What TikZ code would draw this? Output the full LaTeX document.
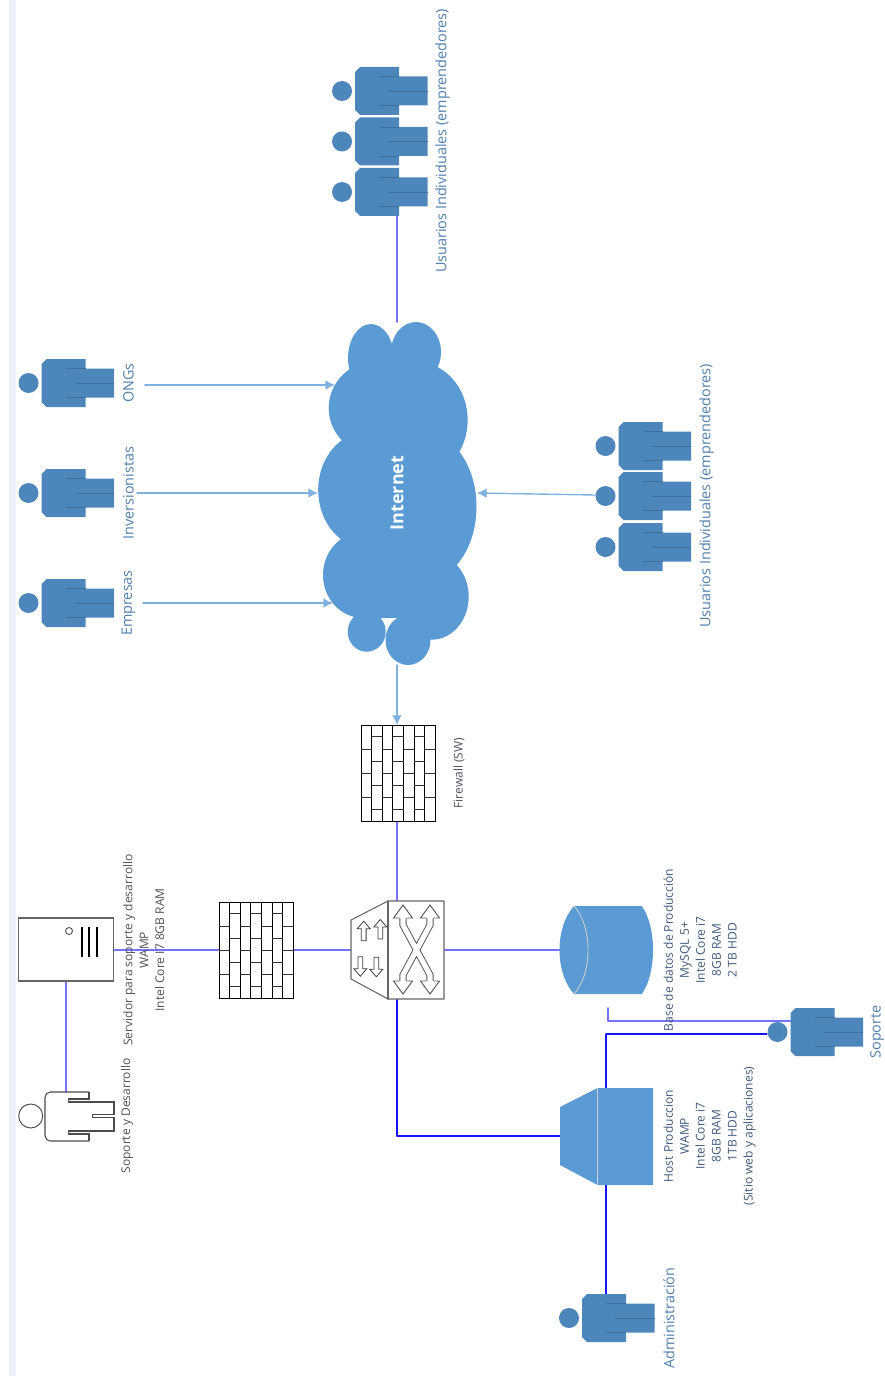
\documentclass[tikz,border=0pt]{standalone}
\usepackage{fontspec}
\setmainfont{Open Sans}
\usepackage{tikz}
\usetikzlibrary{calc, arrows.meta}
\usepackage{tkz-euclide}

\definecolor{cloudblue}{HTML}{5B9BD5}
\definecolor{personblue}{HTML}{4D86BB}
\definecolor{personline}{HTML}{3F6F9C}
\definecolor{wireblue}{HTML}{1414FF}
\definecolor{softwire}{HTML}{7474FF}
\definecolor{feedblue}{HTML}{7FB1E0}
\definecolor{labelblue}{HTML}{4F7FAD}
\definecolor{notedark}{HTML}{3F5A7C}
\definecolor{notegray}{HTML}{52505F}
\definecolor{stripblue}{HTML}{ECF1FA}

\tikzset{
    wire/.style={wireblue, line width=0.65pt},
    softline/.style={softwire, line width=0.95pt},
    feed/.style={feedblue, line width=0.8pt, -{Latex[length=5.5pt, width=5.5pt]}},
    biglabel/.style={rotate=90, labelblue, align=center, font=\fontsize{8.2}{11}\selectfont},
    notelabel/.style={rotate=90, notedark, align=center, font=\fontsize{6.85}{9.07}\selectfont},
    darklabel/.style={notelabel, notegray},
    hardware/.style={draw=black!60, line width=0.6pt},
    person/.pic={
        \fill[personblue] (0,0) circle (10);
        \fill[personblue] (13,-19) -- (18,-24) -- (57,-24) -- (57,-14.5) -- (85.5,-14.5)
            -- (85.5,14.5) -- (57,14.5) -- (57,24) -- (18,24) -- (13,19) -- cycle;
        \draw[personline, line width=0.5pt] (37,14.5) -- (57,14.5) (37,-14.5) -- (57,-14.5) (46,0) -- (85.5,0);
    },
    firewall/.pic={
        \draw[black, line width=0.55pt] (0,0) rectangle (74.5,-96.5);
        \foreach \c in {1,...,6} \draw[black, line width=0.55pt] ({\c*10.64},0) -- ({\c*10.64},-96.5);
        \foreach \c in {0,2,4,6} \foreach \r in {24.3,48.3,72.3}
            \draw[black!80, line width=0.55pt] ({\c*10.64},-\r) -- ++(10.64,0);
        \foreach \c in {1,3,5} \foreach \r in {11.7,36,60,84}
            \draw[black!80, line width=0.55pt] ({\c*10.64},-\r) -- ++(10.64,0);
    },
    smalltip/.pic={
        \draw[black!75, line width=0.45pt] (-2.4,0) -- (-2.4,12) -- (-6.5,12) -- (0,19.5) -- (6.5,12) -- (2.4,12) -- (2.4,0) -- cycle;
    },
    bigtip/.pic={
        \filldraw[fill=white, draw=black!65, line width=0.55pt] (-3.6,0) -- (-9.5,0) -- (0,13) -- (9.5,0) -- (3.6,0);
    },
}

\begin{document}
\begin{tikzpicture}[x=0.2mm, y=0.2mm]
    \useasboundingbox (0,0) rectangle (885,-1376);
    \fill[stripblue] (9,0) rectangle (16,-1376);

    % places of the people and of the boxes
    \tkzDefPoints{342/-91/UA, 342/-141.5/UB, 342/-192/UC, 605.5/-446/RA, 605.5/-496/RB, 605.5/-547/RC}
    \tkzDefPoints{28.5/-383/ONG, 28.5/-493/INV, 28.5/-603/EMP, 777.5/-1032/SOP, 569/-1318/ADM}
    \tkzDefPoints{361/-725/FA, 219/-902/FB}

    % wire ends
    \tkzDefPoints{397/-216/UC_e, 397/-322/CL_t, 145/-385/ONG_e, 335/-385/CL_o, 137/-493/INV_e, 318/-493/CL_i}
    \tkzDefPoints{143/-603/EMP_e, 333/-603/CL_m, 595/-495/RB_e, 477/-493/CL_r, 397/-665/CL_b, 397/-725/FA_t}
    \tkzDefPoints{397/-822/FA_b, 397/-901/SW_t, 444/-950/SW_r, 560/-950/DB_l, 293.5/-950/FB_r, 351/-950/SW_l}
    \tkzDefPoints{397/-999/SW_b, 397/-1136/SW_c, 560.5/-1136/HO_l, 113.5/-950/SV_r, 219/-950/FB_l}
    \tkzDefPoints{66/-981/SV_b, 66/-1092/SD_t, 608/-1008/DB_b, 608/-1021/DB_c, 791/-1021/SOP_l}
    \tkzDefPoints{606/-1088/HO_t, 606/-1034/HO_c, 767/-1034/SOP_h, 606/-1185/HO_b, 606/-1295/ADM_t}

    % host and switch corners
    \tkzDefPoints{560/-1107/HA, 597.5/-1088/HB, 653/-1088/HC, 653/-1185/HD, 597.5/-1185/HE, 560/-1165/HF}
    \tkzDefPoints{351/-920/SA, 388/-901/SB, 444/-901/SC, 444/-999/SD, 388/-999/SE, 351/-979/SF}

    % wires first
    \tkzDrawSegments[softline](UC_e,CL_t FA_b,SW_t SW_r,DB_l FB_r,SW_l SV_r,FB_l SV_b,SD_t DB_b,DB_c DB_c,SOP_l)
    \tkzDrawSegments[wire](SW_b,SW_c SW_c,HO_l HO_t,HO_c HO_c,SOP_h HO_b,ADM_t)
    \tkzDrawSegments[feed](ONG_e,CL_o INV_e,CL_i EMP_e,CL_m RB_e,CL_r CL_b,FA_t)

    % cloud
    \fill[cloudblue] (371,-358) ellipse (23 and 34) (416,-352) ellipse (25 and 30)
        (376.7,-408) ellipse (48 and 47) (416.7,-420) ellipse (51 and 58)
        (366.7,-490) ellipse (48.5 and 58) (423,-506.7) ellipse (53.5 and 75)
        (363,-575) ellipse (40 and 43) (431.7,-596.7) ellipse (37 and 43)
        (366.7,-631.7) ellipse (19 and 20) (408,-640) ellipse (22.5 and 25);
    \fill[cloudblue] (365,-370) rectangle (440,-618);
    \node[white, rotate=90, font=\fontsize{10.2}{11}\selectfont\bfseries] (cloudname) at (397,-493) {Internet};

    % people
    \foreach \p in {UA,UB,UC,RA,RB,RC,ONG,INV,EMP,SOP,ADM} \pic at (\p) {person};

    % person without fill
    \draw[black!70, line width=0.55pt] (30.7,-1116) circle (12);
    \draw[black!70, line width=0.6pt, rounded corners=3pt] (89,-1092) -- (45,-1092) -- (45,-1141) -- (89,-1141);
    \draw[black!70, line width=0.6pt] (89,-1092) -- (89,-1099) -- (68.5,-1099) -- (68.5,-1102) -- (114,-1102) -- (114,-1114.5)
        -- (92.5,-1114.5) -- (92.5,-1117.5) -- (114,-1117.5) -- (114,-1131) -- (68.5,-1131) -- (68.5,-1134) -- (89,-1134) -- (89,-1141);

    % server
    \draw[hardware] (18.5,-918) rectangle (113.5,-981);
    \draw[black!70, line width=0.5pt] (69,-931) circle (3.5);
    \foreach \x in {82,89,97} \draw[black, line width=1.3pt] (\x,-927) -- (\x,-957);

    % firewalls
    \pic at (FA) {firewall};
    \pic at (FB) {firewall};

    % switch
    \tkzDrawPolygon[hardware, fill=white](SA,SB,SC,SD,SE,SF)
    \tkzDrawSegments[hardware](SB,SE)
    \pic at (363.7,-940.7) {smalltip};
    \pic at (380.3,-939) {smalltip};
    \pic[rotate=180] at (360.3,-956.7) {smalltip};
    \pic[rotate=180] at (376.3,-957.3) {smalltip};
    \draw[black!65, double=white, double distance=2.9pt, line width=0.55pt]
        (403,-918) -- (403,-925) -- (430,-975) -- (430,-981)
        (430,-918) -- (430,-925) -- (403,-975) -- (403,-981);
    \pic at (403,-918) {bigtip};
    \pic at (430,-918) {bigtip};
    \pic[rotate=180] at (403,-981) {bigtip};
    \pic[rotate=180] at (430,-981) {bigtip};

    % database
    \fill[cloudblue] (574,-906) -- (641.7,-906) .. controls (649,-916) and (653,-932) .. (653,-950)
        .. controls (653,-968) and (649,-984) .. (641.7,-994) -- (574,-994)
        .. controls (565,-984) and (559.5,-968) .. (559.5,-950) .. controls (559.5,-932) and (565,-916) .. (574,-906) -- cycle;
    \draw[black!20!white, line width=0.5pt] (574,-906) .. controls (583,-916) and (588,-932) .. (588,-950)
        .. controls (588,-968) and (583,-984) .. (574,-994);

    % host
    \tkzDrawPolygon[fill=cloudblue, draw=none](HA,HB,HC,HD,HE,HF)
    \tkzDrawSegments[black!20!white, line width=0.5pt](HB,HE)

    % texts
    \node[biglabel] (labusers) at (442.5,-141) {Usuarios Individuales (emprendedores)};
    \node[biglabel] (labusersb) at (706.5,-496) {Usuarios Individuales (emprendedores)};
    \node[biglabel] (labong) at (128.5,-383) {ONGs};
    \node[biglabel] (labinv) at (128.5,-493) {Inversionistas};
    \node[biglabel] (labemp) at (128.5,-603) {Empresas};
    \node[biglabel] (labsop) at (877,-1032) {Soporte};
    \node[biglabel] (labadm) at (669,-1318) {Administración};
    \node[darklabel] (labfw) at (459,-773) {Firewall (SW)};
    \node[darklabel, anchor=north] (labsrv) at (117,-950) {Servidor para soporte y desarrollo\\WAMP\\Intel Core I7 8GB RAM};
    \node[darklabel] (labdev) at (127,-1116) {Soporte y Desarrollo};
    \node[notelabel, anchor=north] (labdb) at (657.5,-950) {Base de datos de Producción\\MySQL 5+\\Intel Core i7\\8GB RAM\\2 TB HDD};
    \node[notelabel, anchor=north] (labhost) at (657.5,-1136) {Host Produccion\\WAMP\\Intel Core i7\\8GB RAM\\1TB HDD\\(Sitio web y aplicaciones)};
\end{tikzpicture}
\end{document}
